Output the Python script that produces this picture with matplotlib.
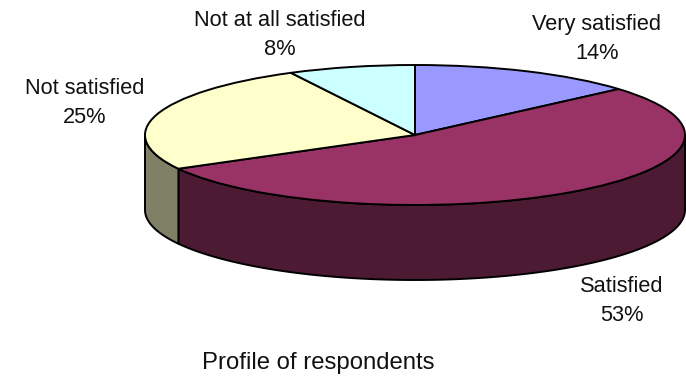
import matplotlib
matplotlib.use("Agg")
import matplotlib.pyplot as plt
import numpy as np

plt.rcParams["font.family"] = ["Liberation Sans", "DejaVu Sans"]

names = ["Very satisfied", "Satisfied", "Not satisfied", "Not at all satisfied"]
shares = [13.6, 53.4, 25.4, 7.6]
pct_labels = ["14%", "53%", "25%", "8%"]
top_colors = ["#9999FF", "#993366", "#FFFFCC", "#CCFFFF"]
side_colors = ["#4C4C7F", "#4C1B33", "#808066", "#668080"]
title = "Profile of respondents"

W, H = 686, 376
cx, cy, rx, ry, depth = 415, 135, 270, 70, 75

fig = plt.figure(figsize=(W / 100, H / 100), dpi=100)
ax = fig.add_axes([0, 0, 1, 1])

ax.pie(shares, colors=top_colors, startangle=90, counterclock=False,
       wedgeprops=dict(edgecolor="k", linewidth=1.4, zorder=3))
ax.set_aspect("auto")
ax.set_xlim(-cx / rx, (W - cx) / rx)
ax.set_ylim((cy - H) / ry, cy / ry)

# side walls, only the front half of the rim shows
edges = np.cumsum([0] + shares) / 100
for i in range(len(shares)):
    f0, f1 = max(edges[i], 0.25), min(edges[i + 1], 0.75)
    if f0 >= f1:
        continue
    f = np.linspace(f0, f1, 80)
    x = np.sin(2 * np.pi * f)
    y = np.cos(2 * np.pi * f)
    ax.fill(np.r_[x, x[::-1]], np.r_[y, y[::-1] - depth / ry],
            facecolor=side_colors[i], edgecolor="k", linewidth=1.4, zorder=2,
            joinstyle="round")

label_pos = [(597, 39), (622, 301), (85, 103), (280, 35)]
for name, pct, (px, py) in zip(names, pct_labels, label_pos):
    fig.text(px / W, 1 - py / H, name + "\n" + pct, ha="center", va="center",
             fontsize=15.7, linespacing=1.5, color="#111111")

fig.text(318 / W, 1 - 363 / H, title, ha="center", va="center", fontsize=17.2, color="#111111")

fig.savefig("out.png", dpi=100)
